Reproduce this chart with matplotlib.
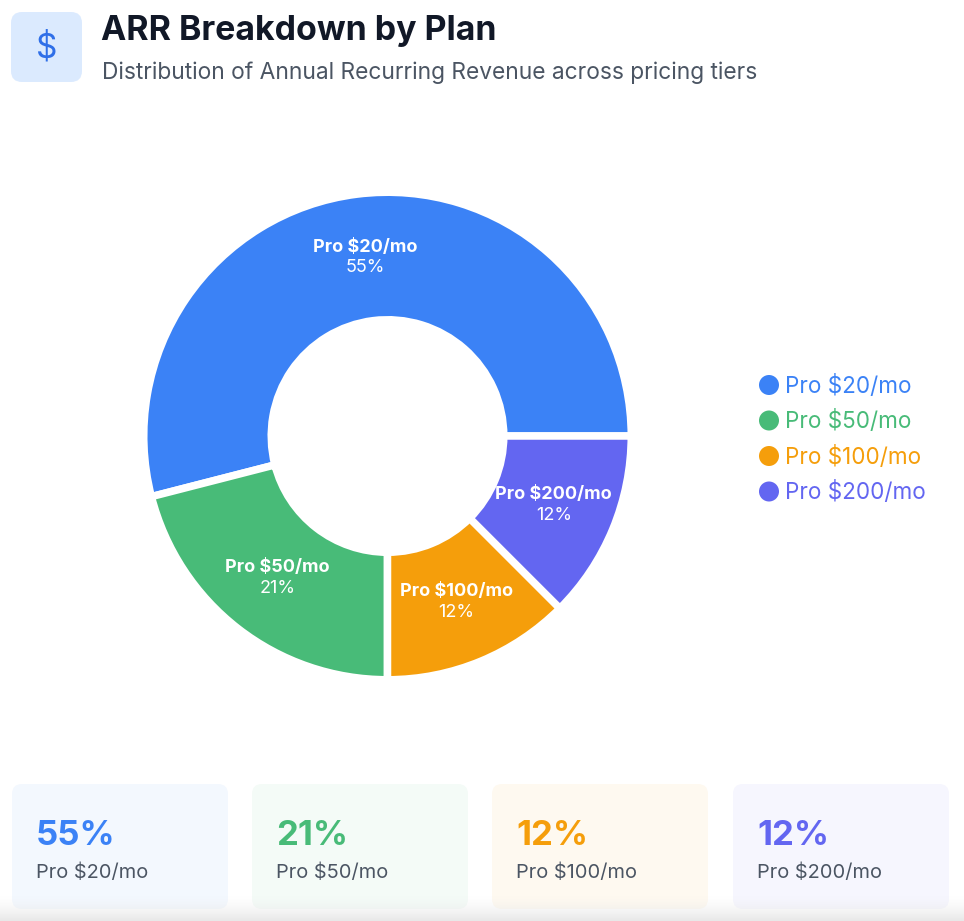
import numpy as np
import matplotlib
matplotlib.use("Agg")
import matplotlib.pyplot as plt
from matplotlib.patches import FancyBboxPatch, Circle
from matplotlib.colors import to_rgb

plt.rcParams['font.family'] = ['Inter', 'DejaVu Sans']

# data
plans = ['Pro $20/mo', 'Pro $50/mo', 'Pro $100/mo', 'Pro $200/mo']
arr_share = [54.0, 21.0, 12.5, 12.5]          # slice sizes (from the angles)
share_labels = ['55%', '21%', '12%', '12%']   # labels as printed
colors = ['#3b82f6', '#48bb78', '#f59e0b', '#6366f1']

W, H = 964, 921
fig = plt.figure(figsize=(W / 100, H / 100), dpi=100)
fig.patch.set_facecolor('white')

# full figure overlay in pixel coordinates (y down)
bg = fig.add_axes([0, 0, 1, 1])
bg.set_xlim(0, W)
bg.set_ylim(H, 0)
bg.axis('off')

# header icon
bg.add_patch(FancyBboxPatch((11, 12), 71, 70, boxstyle='round,pad=0,rounding_size=11',
                            facecolor='#dbeafe', edgecolor='none'))
bg.text(47, 48, '$', fontsize=24, color='#2f6fe8', ha='center', va='center')

bg.text(101, 40, 'ARR Breakdown by Plan', fontsize=24.4, fontweight='bold',
        color='#111827', va='baseline')
bg.text(102, 79, 'Distribution of Annual Recurring Revenue across pricing tiers',
        fontsize=16.4, color='#4b5563', va='baseline')

# legend
for i, (name, c) in enumerate(zip(plans, colors)):
    cy = 385 + i * 35.5
    bg.add_patch(Circle((769, cy), 10, facecolor=c, edgecolor='none'))
    bg.text(785, cy + 7.5, name, fontsize=16.2, color=c, va='baseline')

# summary cards
card_x = [12, 252, 492, 733]
for x, name, lab, c in zip(card_x, plans, share_labels, colors):
    r, g, b = to_rgb(c)
    fill = (1 - 0.06 * (1 - r), 1 - 0.06 * (1 - g), 1 - 0.06 * (1 - b))
    bg.add_patch(FancyBboxPatch((x, 784), 216, 125, boxstyle='round,pad=0,rounding_size=10',
                                facecolor=fill, edgecolor='none'))
    bg.text(x + 24, 845, lab, fontsize=25, fontweight='bold', color=c, va='baseline')
    bg.text(x + 24, 878, name, fontsize=14.4, color='#4b5563', va='baseline')

# soft grey band at the bottom edge
grad = np.zeros((30, 2, 4))
grad[..., :3] = 0.91
grad[..., 3] = np.linspace(0, 1, 30)[:, None] ** 1.5
bg.imshow(grad, extent=(0, W, 921, 895), aspect='auto', zorder=5)

# donut
cx, cy, box = 387.5, 436, 500
ax = fig.add_axes([(cx - box / 2) / W, (H - cy - box / 2) / H, box / W, box / H])
ax.set_facecolor('none')
lw_px = 7.5
r_out = 240 + lw_px / 2
lim = (box / 2) / r_out

wedges, _ = ax.pie(arr_share, colors=colors, startangle=0, counterclock=True,
                   radius=1, wedgeprops=dict(width=(r_out - 120 + lw_px / 2) / r_out,
                                             edgecolor='white', linewidth=lw_px * 0.72))
ax.set_xlim(-lim, lim)
ax.set_ylim(-lim, lim)
ax.set_aspect('equal')
ax.axis('off')

mid_r = 180 / r_out
for w, name, lab in zip(wedges, plans, share_labels):
    ang = np.deg2rad((w.theta1 + w.theta2) / 2)
    x, y = mid_r * np.cos(ang), mid_r * np.sin(ang)
    ax.annotate(name, (x, y), xytext=(0, 7.5), textcoords='offset points',
                ha='center', va='center', fontsize=13, fontweight='bold', color='white')
    ax.annotate(lab, (x, y), xytext=(0, -7.5), textcoords='offset points',
                ha='center', va='center', fontsize=13, color='white')

fig.savefig('out.png', dpi=100, facecolor='white')
